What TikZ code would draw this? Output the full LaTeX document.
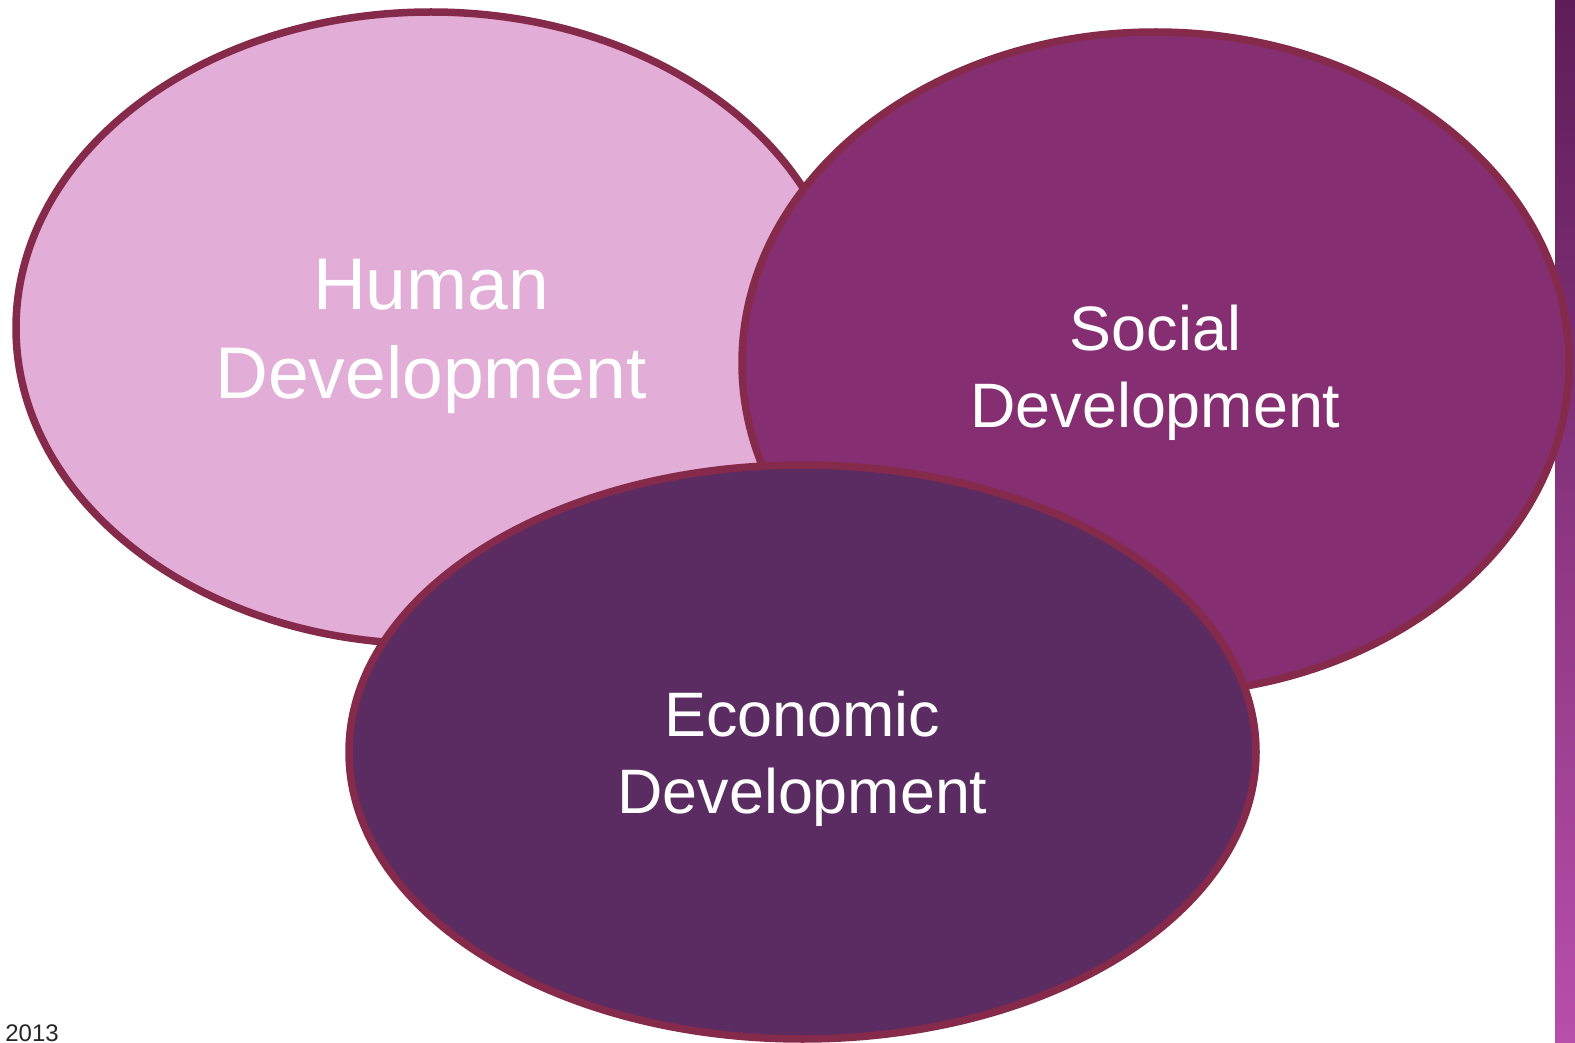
\documentclass[tikz,border=0pt]{standalone}
\usepackage{fontspec}
\setmainfont{Liberation Sans}
\usetikzlibrary{shapes.geometric, positioning}

\definecolor{rimcol}{HTML}{862A4C}
\definecolor{humanfill}{HTML}{E2ADD6}
\definecolor{socialfill}{HTML}{852F72}
\definecolor{econfill}{HTML}{5A2C61}
\definecolor{bartop}{HTML}{5E1D58}
\definecolor{barbottom}{HTML}{B84FAB}

\begin{document}
\begin{tikzpicture} [x=0.5pt, y=-0.5pt,
    devel/.style = {ellipse, draw=rimcol, line width=3.75pt, inner sep=0pt},
    bigtext/.style = {text=white, align=center, font=\fontsize{36.6}{44.5}\selectfont},
    smalltext/.style = {text=white, align=center, font=\fontsize{31.4}{38.5}\selectfont}]
    \useasboundingbox (0,0) rectangle (1575,1043);

    \shade [top color=bartop, bottom color=barbottom] (1555,0) rectangle (1575,1043);

    \node (human)
        [devel, fill=humanfill, minimum width=415pt, minimum height=316pt]
        at (431,328) {};
    \node (social)
        [devel, fill=socialfill, minimum width=413.5pt, minimum height=331pt]
        at (1155.5,363) {};
    \node (econ)
        [devel, fill=econfill, minimum width=453.5pt, minimum height=287pt]
        at (802.5,752) {};

    \node (humantext) [bigtext] at ([yshift=-4.25pt]human.center) {Human\\Development};
    \node (socialtext) [smalltext] at ([yshift=-5pt]social.center) {Social\\Development};
    \node (econtext) [smalltext] at ([yshift=-3.5pt]econ.center) {Economic\\Development};

    \node (year) [anchor=base west, inner sep=0pt, text=black!85, font=\fontsize{12}{14}\selectfont]
        at (5,1041) {2013};
\end{tikzpicture}
\end{document}
